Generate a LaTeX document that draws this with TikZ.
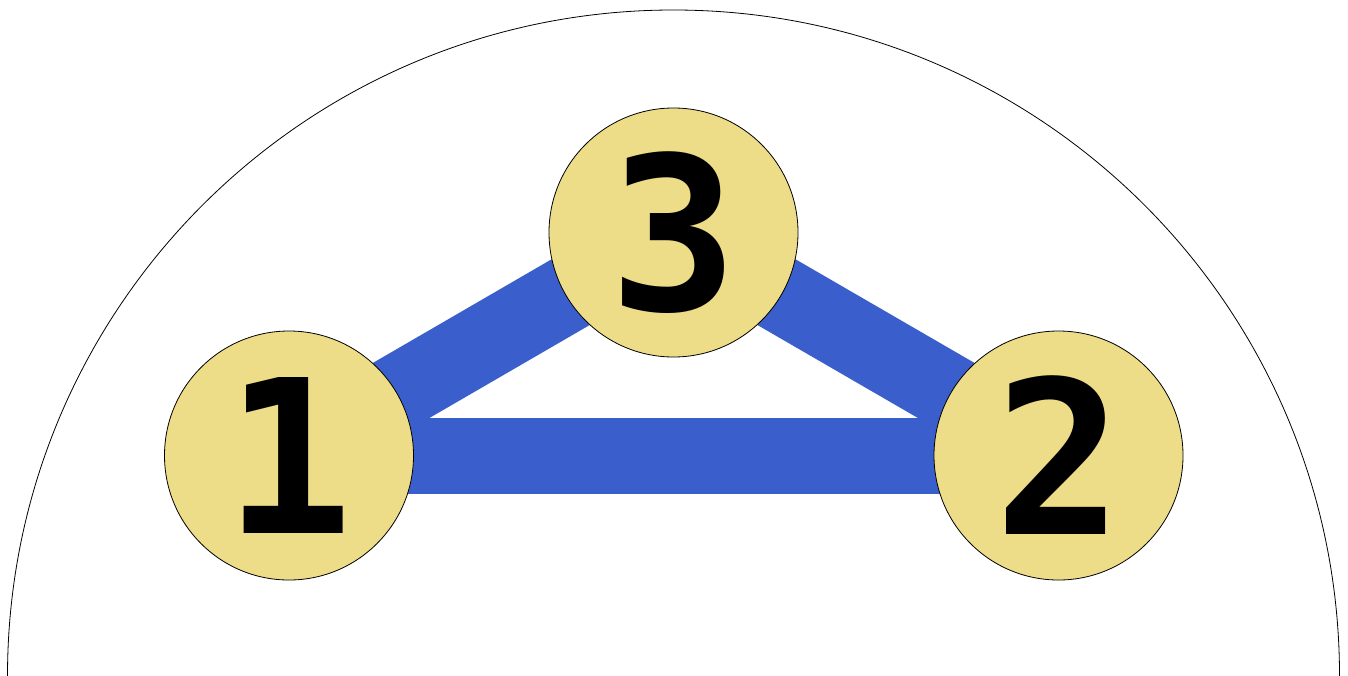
\documentclass[tikz,border=0pt]{standalone}
\usepackage{fontspec}
\newfontfamily\digitfont{DejaVu Sans Mono}
\pgfdeclarelayer{background}
\pgfsetlayers{background,main}
\definecolor{nodefill}{HTML}{EEDD88}
\definecolor{edgeblue}{HTML}{3A5FCD}
\tikzset{
  vnode/.style={circle, draw=black, line width=0.8pt, fill=nodefill, minimum size=249pt, inner sep=0pt,
    font=\digitfont\bfseries\fontsize{214}{214}\selectfont},
  bluedge/.style={draw=edgeblue, line width=76pt}
}
\begin{document}
\begin{tikzpicture}[x=1pt,y=-1pt]
\useasboundingbox (0,0) rectangle (1348,675);
\draw[line width=0.8pt] (7.5,676) arc[start angle=180, end angle=360, radius=666];
\node[vnode] (n1) at (289,455.5) {1};
\node[vnode] (n3) at (673.5,232.5) {3};
\node[vnode] (n2) at (1058.5,455.5) {2};
\begin{pgfonlayer}{background}
\draw[bluedge] (n1.center) -- (n2.center);
\draw[bluedge] (n1.center) -- (n3.center);
\draw[bluedge] (n3.center) -- (n2.center);
\end{pgfonlayer}
\end{tikzpicture}
\end{document}
